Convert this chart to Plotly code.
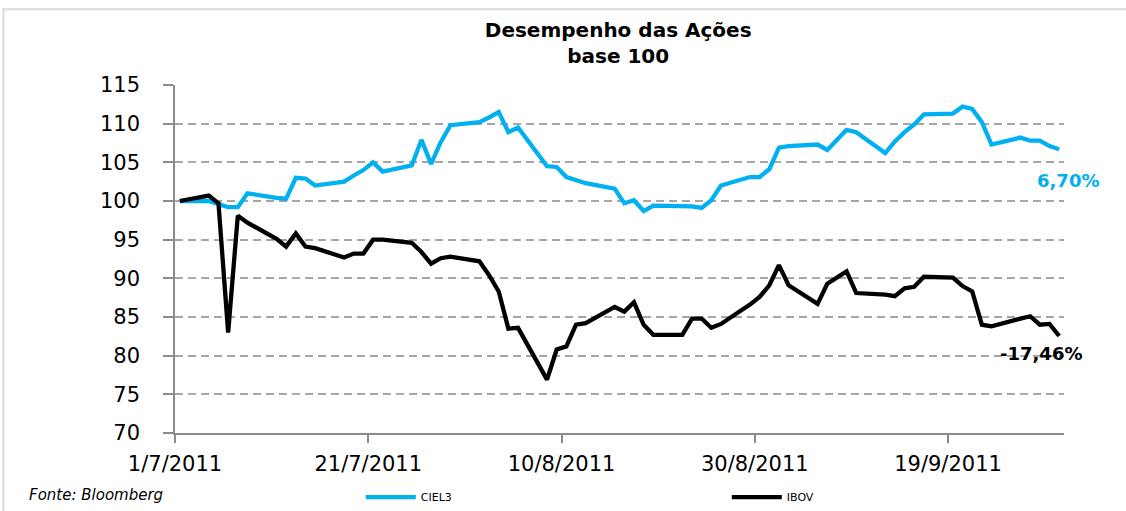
import pandas as pd
import plotly.graph_objects as go

dates = [
    "2011-07-01", "2011-07-04", "2011-07-05", "2011-07-06", "2011-07-07", "2011-07-08",
    "2011-07-11", "2011-07-12", "2011-07-13", "2011-07-14", "2011-07-15",
    "2011-07-18", "2011-07-19", "2011-07-20", "2011-07-21", "2011-07-22",
    "2011-07-25", "2011-07-26", "2011-07-27", "2011-07-28", "2011-07-29",
    "2011-08-01", "2011-08-02", "2011-08-03", "2011-08-04", "2011-08-05",
    "2011-08-08", "2011-08-09", "2011-08-10", "2011-08-11", "2011-08-12",
    "2011-08-15", "2011-08-16", "2011-08-17", "2011-08-18", "2011-08-19",
    "2011-08-22", "2011-08-23", "2011-08-24", "2011-08-25", "2011-08-26",
    "2011-08-29", "2011-08-30", "2011-08-31",
    "2011-09-01", "2011-09-02", "2011-09-05", "2011-09-06", "2011-09-08", "2011-09-09",
    "2011-09-12", "2011-09-13", "2011-09-14", "2011-09-15", "2011-09-16",
    "2011-09-19", "2011-09-20", "2011-09-21", "2011-09-22", "2011-09-23",
    "2011-09-26", "2011-09-27", "2011-09-28", "2011-09-29", "2011-09-30",
]

ciel3 = [
    100.0, 100.0, 99.6, 99.2, 99.2, 101.0,
    100.4, 100.3, 103.0, 102.9, 102.0,
    102.5, 103.3, 104.0, 105.0, 103.8,
    104.6, 107.9, 104.8, 107.6, 109.8,
    110.2, 110.8, 111.5, 108.9, 109.5,
    104.5, 104.4, 103.1, 102.7, 102.3,
    101.6, 99.7, 100.1, 98.7, 99.4,
    99.4, 99.3, 99.1, 100.1, 102.0,
    103.1, 103.1, 104.1,
    106.9, 107.1, 107.3, 106.6, 109.2, 108.9,
    106.2, 107.7, 108.9, 109.9, 111.2,
    111.3, 112.2, 111.9, 110.2, 107.3,
    108.2, 107.8, 107.8, 107.1, 106.7,
]

ibov = [
    100.0, 100.7, 99.7, 83.0, 98.1, 97.2,
    95.1, 94.1, 95.8, 94.1, 93.9,
    92.7, 93.2, 93.2, 95.0, 95.0,
    94.6, 93.4, 91.9, 92.6, 92.8,
    92.2, 90.4, 88.3, 83.5, 83.6,
    76.9, 80.8, 81.2, 84.0, 84.2,
    86.3, 85.7, 86.9, 84.0, 82.7,
    82.7, 84.8, 84.8, 83.6, 84.1,
    86.6, 87.6, 89.1,
    91.7, 89.1, 86.7, 89.3, 90.9, 88.1,
    87.9, 87.7, 88.7, 88.9, 90.2,
    90.1, 89.0, 88.3, 84.0, 83.8,
    84.8, 85.1, 84.0, 84.1, 82.54,
]

tick_dates = ["2011-07-01", "2011-07-21", "2011-08-10", "2011-08-30", "2011-09-19"]
tick_labels = ["1/7/2011", "21/7/2011", "10/8/2011", "30/8/2011", "19/9/2011"]
y_ticks = [70, 75, 80, 85, 90, 95, 100, 105, 110, 115]

# Excel date axis: each day occupies a slot, points sit in the middle of it
x = pd.to_datetime(dates) + pd.Timedelta(hours=12)

BLUE = "#00B0F0"
FONT = "DejaVu Sans"

fig = go.Figure()
fig.add_trace(go.Scatter(x=x, y=ciel3, mode="lines", name="CIEL3",
                         line=dict(color=BLUE, width=4.3)))
fig.add_trace(go.Scatter(x=x, y=ibov, mode="lines", name="IBOV",
                         line=dict(color="black", width=4.3)))

fig.update_layout(
    width=1126, height=511,
    margin=dict(l=175, r=62, t=85, b=78),
    paper_bgcolor="white", plot_bgcolor="white",
    font=dict(family=FONT, color="black"),
    title=dict(text="<b>Desempenho das Ações<br>base 100</b>",
               x=0.549, xanchor="center", y=0.928, yanchor="middle",
               font=dict(family=FONT, size=20, color="black")),
    showlegend=True,
    legend=dict(orientation="h", x=0.209, xanchor="left",
                yref="container", y=0.027, yanchor="middle",
                font=dict(family=FONT, size=11, color="black"),
                entrywidth=301, entrywidthmode="pixels", itemwidth=50,
                bgcolor="rgba(0,0,0,0)"),
)

fig.update_xaxes(
    type="date", automargin=False,
    range=["2011-07-01", "2011-10-01"],
    tickvals=tick_dates, ticktext=tick_labels,
    showgrid=False, zeroline=False,
    showline=True, linecolor="#8c8c8c", linewidth=1.5,
    ticks="outside", ticklen=8, tickcolor="#8c8c8c", tickwidth=1.5,
    ticklabelstandoff=3,
    tickfont=dict(family=FONT, size=21, color="black"),
)
fig.update_yaxes(
    automargin=False,
    range=[70, 115], tickvals=y_ticks,
    showgrid=True, gridcolor="#a6a6a6", gridwidth=1.5, griddash="8px,5px",
    zeroline=False,
    showline=True, linecolor="#8c8c8c", linewidth=1.5,
    ticks="outside", ticklen=10, tickcolor="#8c8c8c", tickwidth=1.5,
    ticklabelstandoff=19,
    tickfont=dict(family=FONT, size=21, color="black"),
)

# end-of-period performance labels
fig.add_annotation(x=x[-1], y=ciel3[-1], xref="x", yref="y",
                   text="<b>6,70%</b>", showarrow=False,
                   xanchor="center", yanchor="middle", xshift=9, yshift=-31,
                   font=dict(family=FONT, size=18, color=BLUE))
fig.add_annotation(x=x[-1], y=ibov[-1], xref="x", yref="y",
                   text="<b>-17,46%</b>", showarrow=False,
                   xanchor="center", yanchor="middle", xshift=-18, yshift=-17,
                   font=dict(family=FONT, size=18, color="black"))

fig.add_annotation(x=-0.1665, y=-0.178, xref="paper", yref="paper",
                   text="<i>Fonte: Bloomberg</i>", showarrow=False,
                   xanchor="left", yanchor="middle",
                   font=dict(family=FONT, size=15, color="black"))

# chart border
fig.add_shape(type="rect", xref="paper", yref="paper",
              x0=-0.193, x1=1.08, y0=-0.25, y1=1.218,
              line=dict(color="#d9d9d9", width=2), layer="below")

fig.write_html("out.html",
               config={"displayModeBar": False},
               post_script="document.body.style.margin='0';document.body.style.overflow='hidden';")
